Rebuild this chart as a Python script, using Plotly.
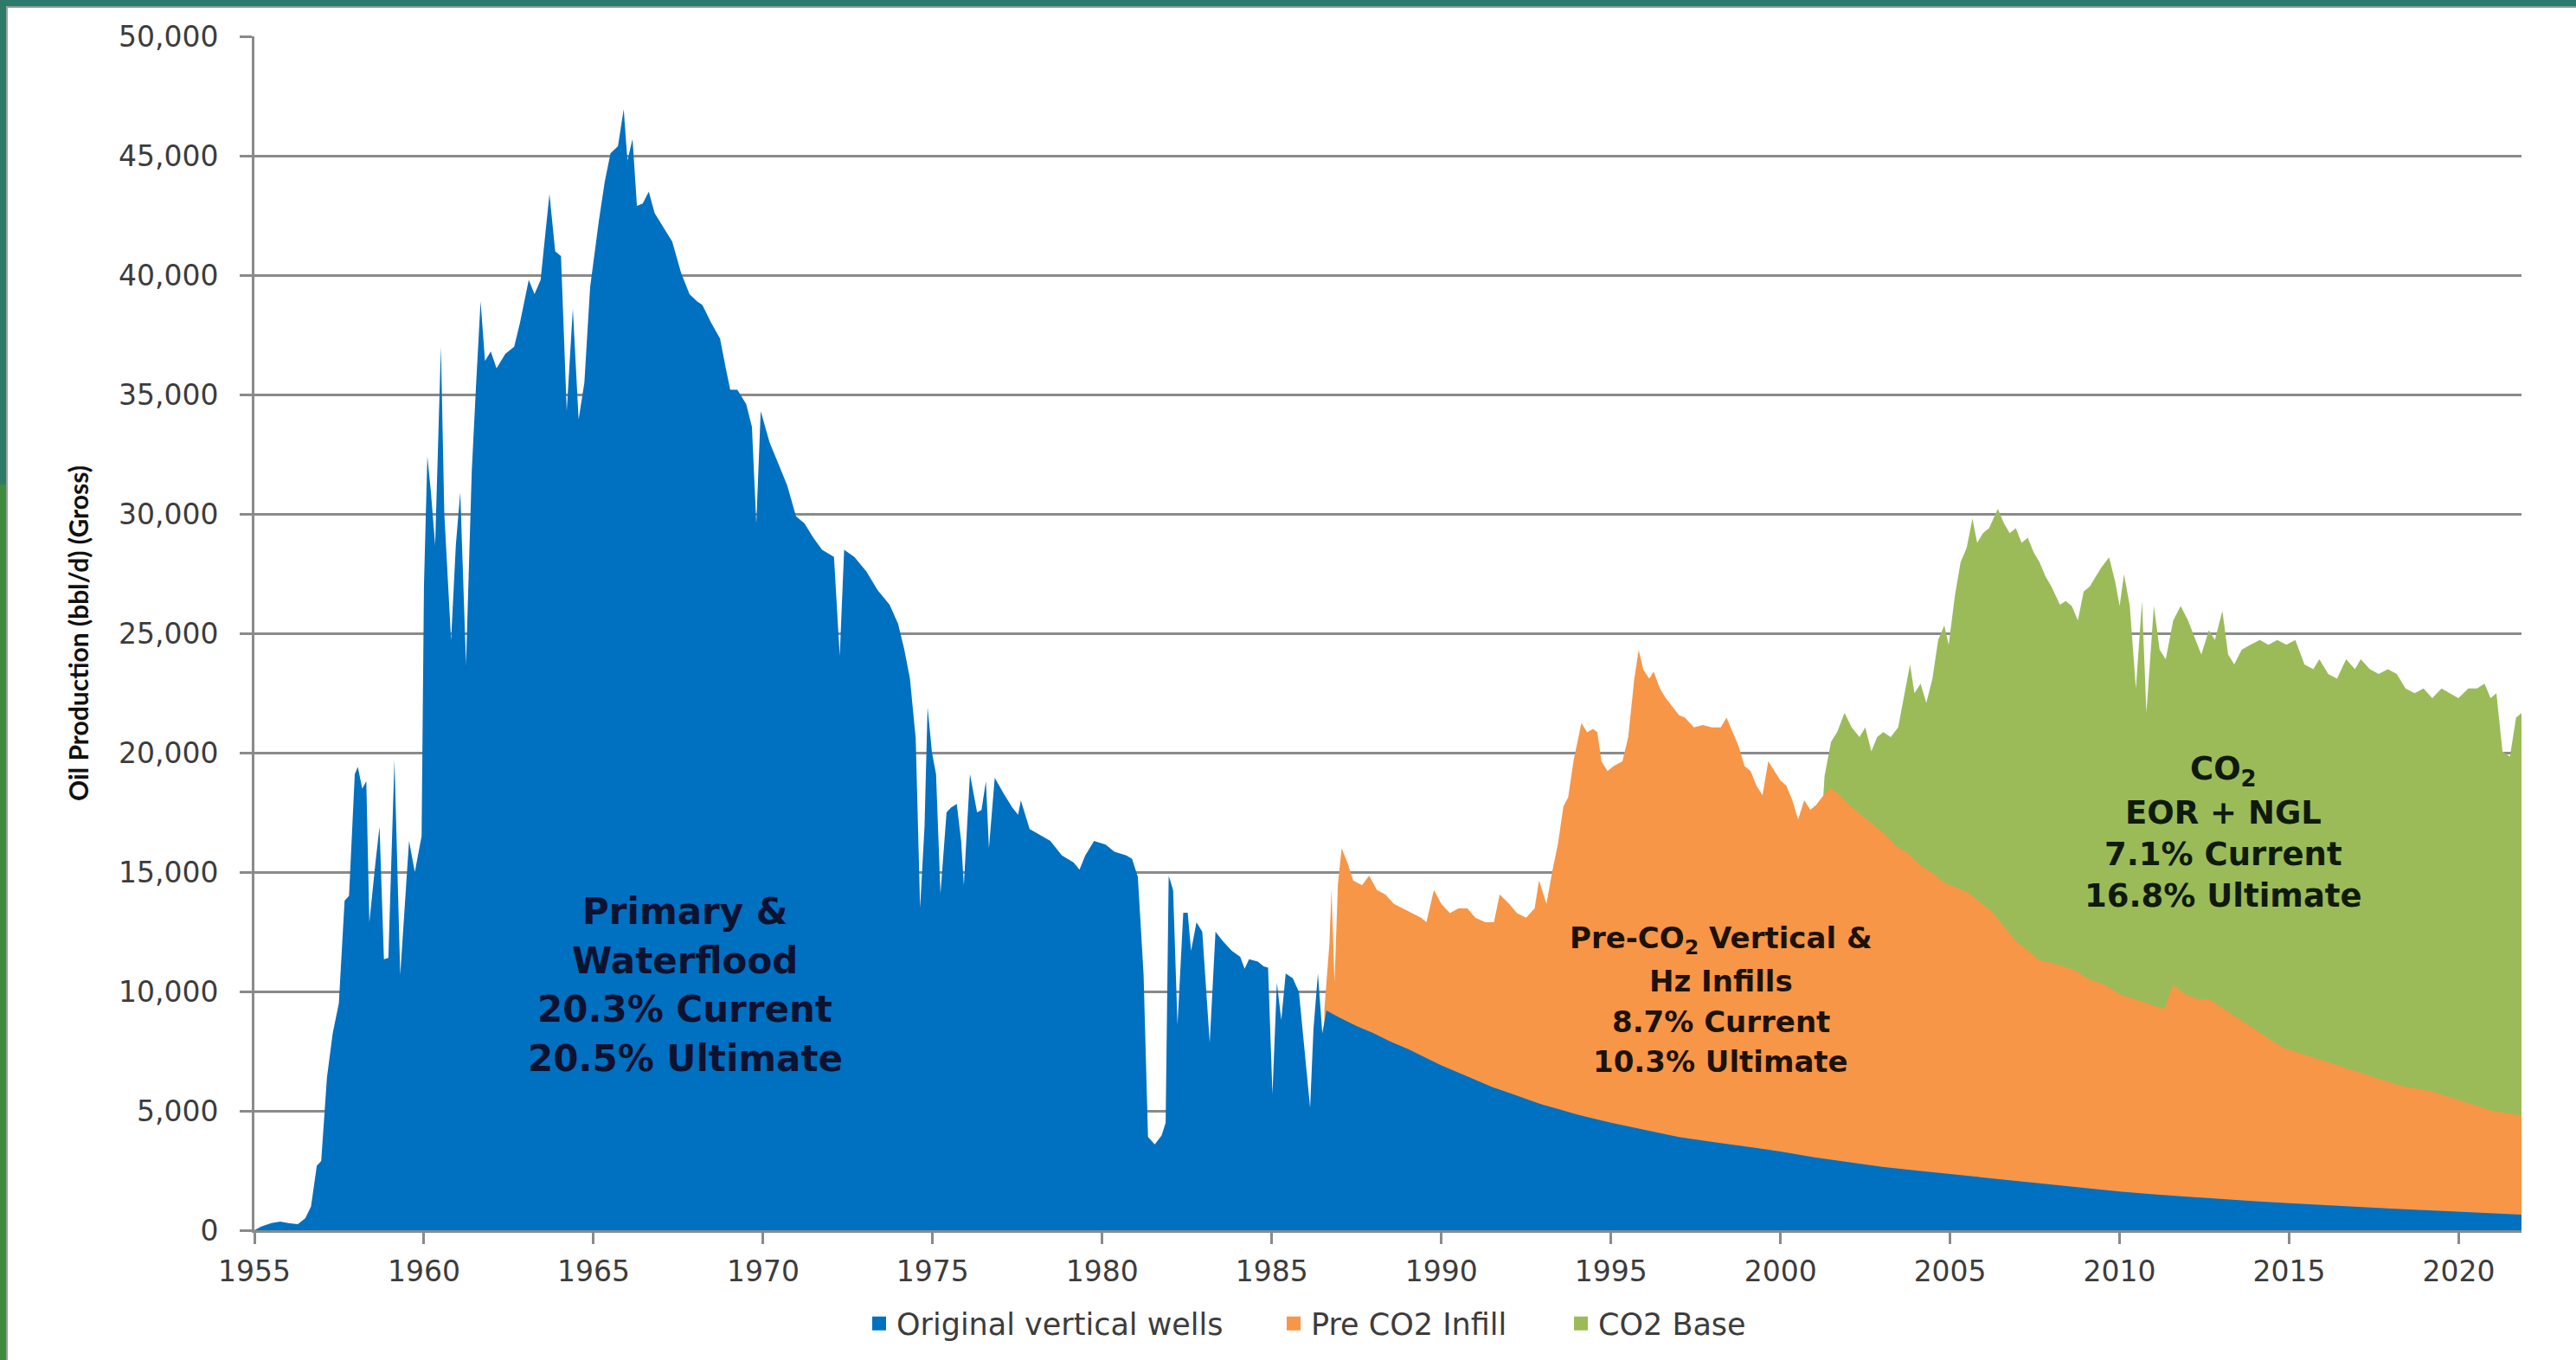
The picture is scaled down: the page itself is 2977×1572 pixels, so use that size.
import plotly.graph_objects as go

# ---------------- data ----------------
years_ticks = [1955, 1960, 1965, 1970, 1975, 1980, 1985, 1990, 1995, 2000, 2005, 2010, 2015, 2020]
y_ticks = [0, 5000, 10000, 15000, 20000, 25000, 30000, 35000, 40000, 45000, 50000]

series_names = ["Original vertical wells", "Pre CO2 Infill", "CO2 Base"]
series_colors = ["#0070C0", "#F79646", "#9BBB59"]

# Original vertical wells (bbl/d)
orig_x = [1955.0, 1955.2, 1955.5, 1955.76, 1956.0, 1956.28, 1956.5, 1956.67, 1956.84, 1956.97,
          1957.14, 1957.31, 1957.49, 1957.66, 1957.79, 1957.96, 1958.05, 1958.18, 1958.3, 1958.39,
          1958.57, 1958.69, 1958.82, 1958.95, 1959.13, 1959.3, 1959.56, 1959.73, 1959.93, 1960.0,
          1960.1, 1960.2, 1960.33, 1960.5, 1960.6, 1960.68, 1960.8, 1960.94, 1961.07, 1961.24,
          1961.41, 1961.54, 1961.67, 1961.8, 1961.97, 1962.14, 1962.4, 1962.66, 1962.83, 1963.09,
          1963.26, 1963.44, 1963.7, 1963.87, 1964.04, 1964.21, 1964.39, 1964.56, 1964.73, 1964.9,
          1965.16, 1965.33, 1965.5, 1965.72, 1965.89, 1966.0, 1966.15, 1966.28, 1966.45, 1966.63,
          1966.8, 1967.06, 1967.32, 1967.58, 1967.83, 1968.05, 1968.21, 1968.47, 1968.73, 1968.9,
          1969.03, 1969.24, 1969.5, 1969.67, 1969.8, 1969.93, 1970.19, 1970.45, 1970.71, 1970.97,
          1971.22, 1971.48, 1971.74, 1972.09, 1972.26, 1972.39, 1972.69, 1973.04, 1973.38, 1973.73,
          1973.98, 1974.16, 1974.33, 1974.5, 1974.63, 1974.76, 1974.85, 1974.98, 1975.1, 1975.23,
          1975.41, 1975.54, 1975.71, 1975.84, 1975.92, 1976.1, 1976.31, 1976.44, 1976.57, 1976.66,
          1976.83, 1977.09, 1977.35, 1977.52, 1977.6, 1977.86, 1978.21, 1978.47, 1978.81, 1979.16,
          1979.33, 1979.5, 1979.76, 1980.1, 1980.36, 1980.71, 1980.88, 1981.05, 1981.22, 1981.35,
          1981.55, 1981.75, 1981.87, 1981.96, 1982.09, 1982.22, 1982.39, 1982.52, 1982.62, 1982.78,
          1982.95, 1983.17, 1983.34, 1983.56, 1983.82, 1984.07, 1984.2, 1984.33, 1984.59, 1984.76,
          1984.89, 1985.02, 1985.15, 1985.28, 1985.41, 1985.62, 1985.8, 1985.97, 1986.13, 1986.23,
          1986.36, 1986.49, 1986.61, 1987.0, 1987.5, 1988.0, 1988.5, 1989.0, 1989.5, 1990.0,
          1990.5, 1991.0, 1991.5, 1992.0, 1992.5, 1993.0, 1993.5, 1994.0, 1995.0, 1996.0,
          1997.0, 1998.0, 1999.0, 2000.0, 2001.0, 2002.0, 2003.0, 2004.0, 2005.0, 2006.0,
          2007.0, 2008.0, 2009.0, 2010.0, 2011.0, 2012.0, 2013.0, 2014.0, 2015.0, 2016.0,
          2017.0, 2018.0, 2019.0, 2020.0, 2021.0, 2021.86]
orig_y = [0, 150, 300, 360, 300, 250, 500, 1000, 2700, 2900,
          6400, 8250, 9500, 13800, 14000, 19100, 19400, 18500, 18800, 12900,
          15400, 16900, 11350, 11400, 19700, 10700, 16300, 15000, 16500, 27000,
          32400, 31000, 28700, 37000, 30000, 27800, 24700, 28700, 30900, 23700,
          31800, 35500, 38900, 36400, 36800, 36100, 36700, 37000, 38000, 39800,
          39200, 39800, 43400, 41000, 40800, 34300, 38600, 33950, 35500, 39500,
          42300, 43900, 45100, 45400, 46950, 44800, 45700, 42900, 43000, 43500,
          42600, 42000, 41400, 40100, 39200, 38900, 38750, 38000, 37350, 36100,
          35200, 35200, 34600, 33650, 29600, 34300, 33000, 32100, 31200, 29900,
          29600, 29000, 28500, 28200, 24050, 28500, 28200, 27600, 26800, 26200,
          25400, 24350, 23100, 20600, 13500, 16900, 21900, 20000, 19100, 14100,
          17500, 17700, 17850, 16300, 14450, 19100, 17500, 17600, 18800, 16000,
          18950, 18300, 17700, 17400, 18000, 16800, 16500, 16300, 15700, 15400,
          15100, 15700, 16300, 16150, 15850, 15700, 15550, 14800, 10700, 3900,
          3600, 3970, 4500, 14850, 14250, 8600, 13300, 13300, 11700, 12900,
          12500, 7850, 12500, 12100, 11700, 11450, 10950, 11350, 11250, 11050,
          11000, 5700, 10370, 8800, 10750, 10550, 9980, 7460, 5130, 8430,
          10750, 8240, 9200, 8900, 8550, 8250, 7900, 7600, 7250, 6900,
          6600, 6300, 6000, 5750, 5500, 5250, 5050, 4850, 4500, 4200,
          3900, 3700, 3500, 3300, 3050, 2850, 2650, 2500, 2350, 2200,
          2050, 1900, 1750, 1620, 1500, 1400, 1300, 1210, 1130, 1050,
          980, 910, 840, 780, 710, 650]

# Pre CO2 Infill: cumulative top of the stack (original + infill), bbl/d
infill_x = [1986.55, 1986.7, 1986.76, 1986.85, 1986.95, 1987.06, 1987.23, 1987.4, 1987.66, 1987.87,
            1988.1, 1988.35, 1988.6, 1988.87, 1989.13, 1989.4, 1989.56, 1989.78, 1990.0, 1990.25,
            1990.5, 1990.77, 1991.0, 1991.3, 1991.55, 1991.72, 1992.0, 1992.23, 1992.5, 1992.75,
            1992.88, 1993.1, 1993.27, 1993.44, 1993.6, 1993.74, 1993.9, 1994.13, 1994.3, 1994.47,
            1994.6, 1994.72, 1994.9, 1995.08, 1995.34, 1995.51, 1995.69, 1995.82, 1995.95, 1996.13,
            1996.26, 1996.44, 1996.61, 1996.83, 1997.01, 1997.18, 1997.45, 1997.71, 1997.97, 1998.24,
            1998.41, 1998.59, 1998.77, 1998.94, 1999.12, 1999.29, 1999.47, 1999.64, 1999.82, 2000.0,
            2000.17, 2000.35, 2000.52, 2000.7, 2000.88, 2001.05, 2001.27, 2001.49, 2001.75, 2002.02,
            2002.37, 2002.72, 2003.07, 2003.42, 2003.77, 2004.13, 2004.48, 2004.83, 2005.18, 2005.53,
            2005.88, 2006.24, 2006.59, 2006.94, 2007.29, 2007.64, 2007.99, 2008.24, 2008.68, 2009.12,
            2009.56, 2010.0, 2010.44, 2010.88, 2011.32, 2011.58, 2011.93, 2012.28, 2012.63, 2013.07,
            2013.51, 2013.95, 2014.39, 2014.83, 2015.27, 2015.71, 2016.15, 2016.59, 2017.03, 2017.47,
            2017.91, 2018.35, 2018.79, 2019.22, 2019.66, 2020.1, 2020.54, 2020.98, 2021.42, 2021.86]
infill_top = [9250, 12000, 14250, 10370, 14500, 16000, 15400, 14650, 14450, 14850,
              14250, 14060, 13670, 13480, 13280, 13090, 12900, 14250, 13670, 13280,
              13480, 13480, 13090, 12900, 12900, 14060, 13670, 13280, 13090, 13480,
              14650, 13670, 15030, 16200, 17750, 18130, 19680, 21240, 20850, 21000,
              20860, 19640, 19230, 19440, 19640, 20650, 23100, 24300, 23500, 23100,
              23400, 22700, 22300, 21900, 21570, 21470, 21060, 21160, 21060, 21060,
              21470, 20860, 20250, 19440, 19230, 18620, 18220, 19640, 19230, 18830,
              18620, 18010, 17200, 18010, 17610, 17810, 18220, 18520, 18220, 17810,
              17400, 17000, 16590, 16080, 15780, 15270, 14960, 14560, 14350, 14150,
              13740, 13340, 12730, 12120, 11710, 11300, 11200, 11100, 10900, 10490,
              10290, 9880, 9680, 9470, 9270, 10290, 9880, 9680, 9680, 9270,
              8860, 8460, 8050, 7640, 7440, 7240, 7030, 6830, 6630, 6420,
              6220, 6020, 5920, 5810, 5610, 5410, 5200, 5000, 4900, 4800]

# CO2 Base: cumulative top of the stack (total field), bbl/d
co2_x = [2001.25, 2001.3, 2001.49, 2001.67, 2001.89, 2002.1, 2002.33, 2002.5, 2002.68, 2002.85,
         2003.03, 2003.25, 2003.47, 2003.64, 2003.82, 2003.95, 2004.13, 2004.3, 2004.48, 2004.65,
         2004.83, 2004.96, 2005.14, 2005.31, 2005.49, 2005.66, 2005.8, 2005.97, 2006.15, 2006.41,
         2006.59, 2006.76, 2006.94, 2007.11, 2007.29, 2007.47, 2007.64, 2007.82, 2007.99, 2008.24,
         2008.41, 2008.59, 2008.77, 2008.94, 2009.12, 2009.29, 2009.47, 2009.69, 2009.87, 2010.0,
         2010.13, 2010.3, 2010.48, 2010.66, 2010.79, 2011.01, 2011.18, 2011.36, 2011.58, 2011.8,
         2012.02, 2012.24, 2012.41, 2012.63, 2012.81, 2013.03, 2013.2, 2013.38, 2013.6, 2013.86,
         2014.13, 2014.39, 2014.65, 2014.92, 2015.18, 2015.45, 2015.71, 2015.89, 2016.15, 2016.41,
         2016.68, 2016.94, 2017.11, 2017.38, 2017.64, 2017.91, 2018.17, 2018.43, 2018.7, 2018.96,
         2019.22, 2019.49, 2019.75, 2019.99, 2020.28, 2020.54, 2020.76, 2020.94, 2021.11, 2021.29,
         2021.51, 2021.69, 2021.86]
co2_top = [17900, 19030, 20450, 20860, 21670, 21060, 20650, 21060, 20050, 20650,
           20860, 20650, 21060, 22280, 23700, 22490, 22890, 22080, 23100, 24720,
           25330, 24520, 26550, 27970, 28580, 29800, 28790, 29190, 29400, 30210,
           29600, 29190, 29400, 28790, 29000, 28380, 27970, 27360, 26960, 26200,
           26350, 26140, 25530, 26750, 26960, 27360, 27770, 28180, 27160, 26140,
           27470, 26140, 22690, 26350, 21670, 26140, 24310, 23910, 25530, 26140,
           25530, 24720, 24110, 25130, 24720, 25940, 24110, 23700, 24310, 24520,
           24720, 24520, 24720, 24520, 24720, 23700, 23500, 23910, 23300, 23100,
           23910, 23500, 23910, 23500, 23300, 23500, 23300, 22690, 22490, 22690,
           22280, 22690, 22490, 22280, 22690, 22690, 22890, 22280, 22490, 20050,
           19840, 21470, 21670]

# in-chart labels
label_primary = ["Primary &", "Waterflood", "20.3% Current", "20.5% Ultimate"]
label_infill = ["Pre-CO<sub>2</sub> Vertical &", "Hz Infills", "8.7% Current", "10.3% Ultimate"]
label_co2 = ["CO<sub>2</sub>", "EOR + NGL", "7.1% Current", "16.8% Ultimate"]

# ---------------- figure ----------------
fig = go.Figure()

# draw back-to-front: total (green), infill top (orange), original (blue)
for xs, ys, col in [(co2_x, co2_top, series_colors[2]),
                    (infill_x, infill_top, series_colors[1]),
                    (orig_x, orig_y, series_colors[0])]:
    fig.add_trace(go.Scatter(x=xs, y=ys, mode="lines", fill="tozeroy",
                             fillcolor=col, line=dict(width=0, color=col),
                             showlegend=False, hoverinfo="x+y"))

# legend entries (square swatches), each in its own legend box
legend_ids = ["legend", "legend2", "legend3"]
for nm, col, lg in zip(series_names, series_colors, legend_ids):
    fig.add_trace(go.Scatter(x=[None], y=[None], mode="markers", name=nm,
                             marker=dict(symbol="square", size=16, color=col),
                             legend=lg, showlegend=True))

# annotations, one per line
def add_label(lines, x, ys, size, family, color):
    for t, yy in zip(lines, ys):
        fig.add_annotation(x=x, y=yy, xref="x", yref="y", text=t, showarrow=False,
                           xanchor="center", yanchor="middle", borderpad=0,
                           font=dict(family=family, size=size, color=color, weight="bold"))

add_label(label_primary, 1967.70, [13350, 11300, 9250, 7200], 42,
          "DejaVu Sans, Verdana, sans-serif", "#0c1230")
add_label(label_infill, 1998.24, [12150, 10450, 8750, 7050], 34,
          "DejaVu Sans, Verdana, sans-serif", "#1c1208")
add_label(label_co2, 2013.05, [19250, 17500, 15750, 14000], 37,
          "DejaVu Sans, Verdana, sans-serif", "#0f1a0c")

axis_gray = "#8a8a8a"
tick_font = dict(family="DejaVu Sans, Verdana, sans-serif", size=33, color="#3c3c3c")

fig.update_xaxes(range=[1955, 2021.85], tickvals=years_ticks, ticktext=[str(v) for v in years_ticks],
                 showgrid=False, zeroline=False, showline=True, linecolor=axis_gray, linewidth=3,
                 ticks="outside", ticklen=13, tickwidth=3, tickcolor=axis_gray,
                 tickfont=tick_font, ticklabelstandoff=3)
fig.update_yaxes(range=[0, 50000], tickvals=y_ticks, tickformat=",",
                 showgrid=True, gridcolor=axis_gray, gridwidth=2.5, zeroline=False,
                 showline=True, linecolor=axis_gray, linewidth=3,
                 ticks="outside", ticklen=14, tickwidth=3, tickcolor=axis_gray,
                 tickfont=tick_font, ticklabelstandoff=18,
                 title=dict(text="Oil Production (bbl/d) (Gross)", standoff=26,
                            font=dict(family="Liberation Sans Narrow, Arial Narrow, Lato, sans-serif",
                                      size=30, color="#111111", weight="bold")))

# frame decorations (paper coordinates relative to plot area)
W, H = 2977, 1572
L, R, T, B = 294, 63, 42, 150
pw, ph = W - L - R, H - T - B
def px_x(p):
    return (p - L) / pw
def px_y(p):
    return (H - B - p) / ph

shapes = [
    dict(type="rect", xref="paper", yref="paper", x0=px_x(0), x1=px_x(W), y0=px_y(7), y1=px_y(0),
         fillcolor="#2a7a6e", line_width=0, layer="above"),
    dict(type="rect", xref="paper", yref="paper", x0=px_x(0), x1=px_x(W), y0=px_y(9), y1=px_y(7),
         fillcolor="#8f9a98", line_width=0, layer="above"),
    dict(type="rect", xref="paper", yref="paper", x0=px_x(0), x1=px_x(7), y0=px_y(560), y1=px_y(0),
         fillcolor="#2e7a68", line_width=0, layer="above"),
    dict(type="rect", xref="paper", yref="paper", x0=px_x(0), x1=px_x(7), y0=px_y(H), y1=px_y(560),
         fillcolor="#3f8a3c", line_width=0, layer="above"),
    dict(type="rect", xref="paper", yref="paper", x0=px_x(7), x1=px_x(9), y0=px_y(H), y1=px_y(7),
         fillcolor="#9aa39f", line_width=0, layer="above"),
]

legend_font = dict(family="DejaVu Sans, Verdana, sans-serif", size=35, color="#3c3c3c")
legend_common = dict(orientation="h", xanchor="left", y=px_y(1530), yanchor="middle",
                     font=legend_font, itemsizing="trace", bgcolor="rgba(0,0,0,0)")
# marker centres in the reference at about 1021, 1500 and 1832 px
legend_left_px = [996, 1475, 1807]

fig.update_layout(
    width=W, height=H,
    margin=dict(l=L, r=R, t=T, b=B, pad=0),
    paper_bgcolor="white", plot_bgcolor="white",
    showlegend=True,
    legend=dict(x=px_x(legend_left_px[0]), **legend_common),
    legend2=dict(x=px_x(legend_left_px[1]), **legend_common),
    legend3=dict(x=px_x(legend_left_px[2]), **legend_common),
    shapes=shapes,
    hovermode=False,
)

fig.write_html("out.html", include_plotlyjs=True, config={"displayModeBar": False},
               post_script="document.body.style.margin='0';document.body.style.overflow='hidden';")
